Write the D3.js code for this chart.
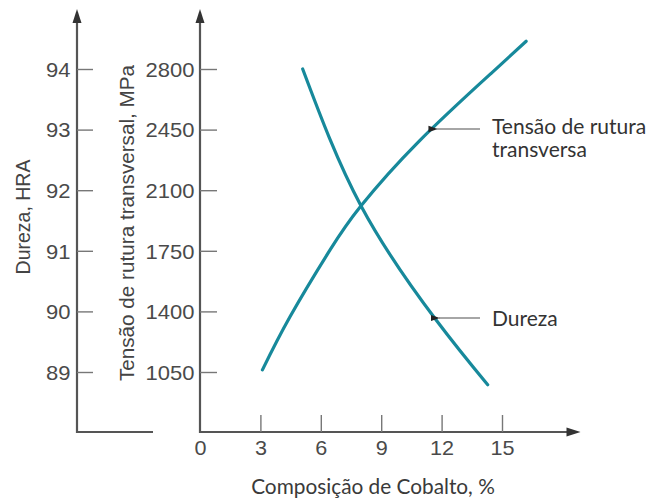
<!DOCTYPE html>
<html>
<head>
<meta charset="utf-8">
<script src="https://cdn.jsdelivr.net/npm/d3@7"></script>
<style>
  html, body { margin: 0; padding: 0; background: #fff; }
  svg { display: block; }
</style>
</head>
<body>
<svg id="chart" width="651" height="499"></svg>
<script>
// Cobalt content (%) and transverse rupture strength (MPa)
const cobaltTensao = [3.1, 4.47, 6.46, 8.0, 10.84, 14.49, 16.2];
const tensao       = [1062, 1369, 1755, 2010, 2378, 2778, 2960];

// Cobalt content (%) and hardness (HRA)
const cobaltDureza = [5.1, 8.0, 11.7, 14.29];
const dureza       = [94.0, 91.74, 89.87, 88.79];

// Tick labels
const xTicks       = [0, 3, 6, 9, 12, 15];
const durezaTicks  = [89, 90, 91, 92, 93, 94];
const tensaoTicks  = [1050, 1400, 1750, 2100, 2450, 2800];

const svg = d3.select("#chart");

const AXIS = "#555";
const CURVE = "#17899b";
const TICKTXT = "#4a4a4a";
const SANS = "Liberation Sans, Arial, sans-serif";
const HUMAN = "Lato, 'Open Sans', sans-serif";

const x = d3.scaleLinear().domain([0, 15]).range([200, 502]);
const yT = d3.scaleLinear().domain([1050, 2800]).range([372, 69]);
const yH = d3.scaleLinear().domain([89, 94]).range([372, 69]);

const baseY = 432, topY = 9;
const leftX = 77;

// arrowhead marker for the callouts
const defs = svg.append("defs");
defs.append("marker")
  .attr("id", "tip").attr("viewBox", "0 0 10 10")
  .attr("refX", 1).attr("refY", 5)
  .attr("markerWidth", 9).attr("markerHeight", 9)
  .attr("orient", "auto-start-reverse")
  .attr("markerUnits", "userSpaceOnUse")
  .append("path").attr("d", "M0,5 L10,1.5 L10,8.5 Z").attr("fill", "#222");

function arrowHead(g, cx, cy, dir) {
  // filled triangle at the end of an axis line
  const p = dir === "up"
    ? `M${cx},${cy} L${cx - 4.5},${cy + 14} L${cx + 4.5},${cy + 14} Z`
    : `M${cx},${cy} L${cx - 14},${cy - 4.5} L${cx - 14},${cy + 4.5} Z`;
  g.append("path").attr("d", p).attr("fill", "#333");
}

const axes = svg.append("g");

// Hardness axis (left)
axes.append("path")
  .attr("d", `M${leftX},${topY + 8} V${baseY} H153`)
  .attr("fill", "none").attr("stroke", AXIS).attr("stroke-width", 2.2);
arrowHead(axes, leftX, topY, "up");

const gH = axes.append("g").attr("transform", `translate(${leftX},0)`)
  .call(d3.axisRight(yH).tickValues(durezaTicks).tickSize(16).tickFormat(d3.format("d")));
gH.select(".domain").remove();
gH.selectAll(".tick line").attr("stroke", "#777").attr("stroke-width", 1.4);
gH.selectAll(".tick text")
  .attr("x", -6).attr("dy", "0.36em").attr("text-anchor", "end")
  .attr("fill", TICKTXT).attr("font-family", SANS).attr("font-size", 20)
  .attr("transform", "scale(1.1,1)");

// Rupture strength axis
axes.append("path")
  .attr("d", `M${x(0)},${topY + 8} V${baseY} H${x(18.3)}`)
  .attr("fill", "none").attr("stroke", AXIS).attr("stroke-width", 2.2);
arrowHead(axes, x(0), topY, "up");
arrowHead(axes, x(18.9), baseY, "right");

const gT = axes.append("g").attr("transform", `translate(${x(0)},0)`)
  .call(d3.axisRight(yT).tickValues(tensaoTicks).tickSize(17).tickFormat(d3.format("d")));
gT.select(".domain").remove();
gT.selectAll(".tick line").attr("stroke", "#777").attr("stroke-width", 1.4);
gT.selectAll(".tick text")
  .attr("x", -5).attr("dy", "0.36em").attr("text-anchor", "end")
  .attr("fill", TICKTXT).attr("font-family", SANS).attr("font-size", 20)
  .attr("transform", "scale(1.1,1)");

// Cobalt axis
const gX = axes.append("g").attr("transform", `translate(0,${baseY})`)
  .call(d3.axisTop(x).tickValues(xTicks).tickSize(17).tickFormat(d3.format("d")));
gX.select(".domain").remove();
gX.selectAll(".tick").filter(d => d === 0).select("line").remove();
gX.selectAll(".tick line").attr("stroke", "#777").attr("stroke-width", 1.4);
gX.selectAll(".tick text")
  .attr("y", 16).attr("dy", "0.36em").attr("text-anchor", "middle")
  .attr("fill", TICKTXT).attr("font-family", SANS).attr("font-size", 20)
  .attr("transform", "scale(1.08,1)");

// Axis titles
svg.append("text")
  .attr("transform", "translate(30,217) rotate(-90)")
  .attr("text-anchor", "middle")
  .attr("font-family", SANS).attr("font-size", 19.5).attr("fill", "#444")
  .text("Dureza, HRA");

svg.append("text")
  .attr("transform", "translate(134,223) rotate(-90)")
  .attr("text-anchor", "middle")
  .attr("font-family", SANS).attr("font-size", 20.7).attr("fill", "#444")
  .text("Tensão de rutura transversal, MPa");

svg.append("text")
  .attr("x", 373).attr("y", 494)
  .attr("text-anchor", "middle")
  .attr("font-family", HUMAN).attr("font-size", 20.8).attr("fill", "#3a3a3a")
  .text("Composição de Cobalto, %");

// Curves: smooth natural splines through the read-off points
const line = d3.line().curve(d3.curveNatural);

svg.append("path")
  .attr("d", line(cobaltTensao.map((c, i) => [x(c), yT(tensao[i])])))
  .attr("fill", "none").attr("stroke", CURVE).attr("stroke-width", 3.2)
  .attr("stroke-linecap", "round");

svg.append("path")
  .attr("d", line(cobaltDureza.map((c, i) => [x(c), yH(dureza[i])])))
  .attr("fill", "none").attr("stroke", CURVE).attr("stroke-width", 3.2)
  .attr("stroke-linecap", "round");

// Callouts
function callout(xVal, yPix, lines, baseline) {
  const g = svg.append("g");
  g.append("line")
    .attr("x1", 480).attr("x2", x(xVal) + 3)
    .attr("y1", yPix).attr("y2", yPix)
    .attr("stroke", "#888").attr("stroke-width", 1.4)
    .attr("marker-end", "url(#tip)");
  const t = g.append("text")
    .attr("x", 492).attr("y", baseline)
    .attr("font-family", HUMAN).attr("font-size", 21).attr("fill", "#333");
  lines.forEach((s, i) => t.append("tspan").attr("x", 492).attr("dy", i ? 23 : 0).text(s));
}
callout(11.6, 129, ["Tensão de rutura", "transversa"], 134);
callout(11.72, 318, ["Dureza"], 326);
</script>
</body>
</html>
